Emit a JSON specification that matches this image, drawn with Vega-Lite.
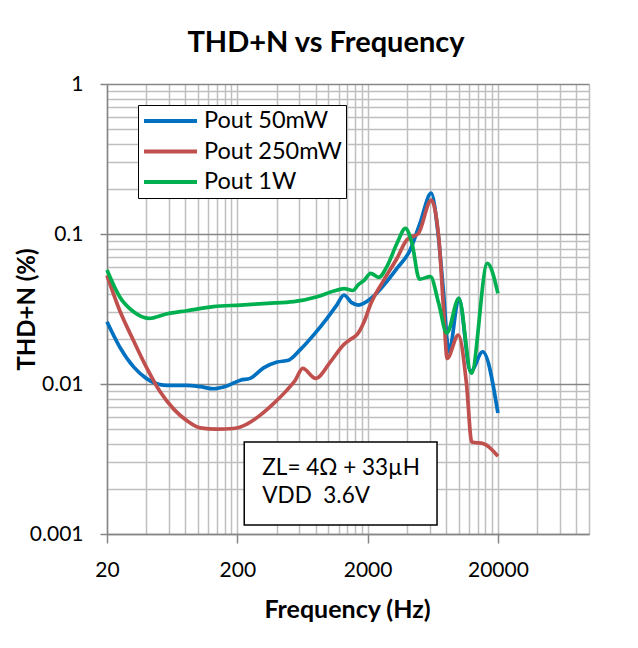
{
  "$schema": "https://vega.github.io/schema/vega-lite/v6.json",
  "width": 482,
  "height": 450,
  "autosize": {"type": "none"},
  "padding": {"left": 107, "top": 84, "right": 49, "bottom": 114},
  "background": "white",
  "title": {"text": "THD+N vs Frequency", "font": "Lato", "fontSize": 29, "fontWeight": "bold", "color": "black", "anchor": "middle", "frame": "group", "dx": -22, "offset": -8, "baseline": "alphabetic"},
  "datasets": {
    "curves": [
      {"s": "Pout 50mW", "f": 20, "v": 0.026},
      {"s": "Pout 50mW", "f": 25, "v": 0.0177},
      {"s": "Pout 50mW", "f": 32, "v": 0.013},
      {"s": "Pout 50mW", "f": 40, "v": 0.0109},
      {"s": "Pout 50mW", "f": 57, "v": 0.0098},
      {"s": "Pout 50mW", "f": 82, "v": 0.0098},
      {"s": "Pout 50mW", "f": 104, "v": 0.0096},
      {"s": "Pout 50mW", "f": 131, "v": 0.0093},
      {"s": "Pout 50mW", "f": 166, "v": 0.0097},
      {"s": "Pout 50mW", "f": 211, "v": 0.0106},
      {"s": "Pout 50mW", "f": 251, "v": 0.0109},
      {"s": "Pout 50mW", "f": 318, "v": 0.0128},
      {"s": "Pout 50mW", "f": 404, "v": 0.014},
      {"s": "Pout 50mW", "f": 494, "v": 0.0144},
      {"s": "Pout 50mW", "f": 611, "v": 0.017},
      {"s": "Pout 50mW", "f": 780, "v": 0.0215},
      {"s": "Pout 50mW", "f": 977, "v": 0.0274},
      {"s": "Pout 50mW", "f": 1160, "v": 0.0336},
      {"s": "Pout 50mW", "f": 1318, "v": 0.0392},
      {"s": "Pout 50mW", "f": 1500, "v": 0.035},
      {"s": "Pout 50mW", "f": 1700, "v": 0.0336},
      {"s": "Pout 50mW", "f": 2107, "v": 0.037},
      {"s": "Pout 50mW", "f": 2664, "v": 0.0457},
      {"s": "Pout 50mW", "f": 3362, "v": 0.0591},
      {"s": "Pout 50mW", "f": 4240, "v": 0.0782},
      {"s": "Pout 50mW", "f": 5050, "v": 0.118},
      {"s": "Pout 50mW", "f": 6150, "v": 0.187},
      {"s": "Pout 50mW", "f": 6900, "v": 0.106},
      {"s": "Pout 50mW", "f": 7580, "v": 0.0445},
      {"s": "Pout 50mW", "f": 8430, "v": 0.0164},
      {"s": "Pout 50mW", "f": 10020, "v": 0.0373},
      {"s": "Pout 50mW", "f": 12340, "v": 0.0121},
      {"s": "Pout 50mW", "f": 15300, "v": 0.0164},
      {"s": "Pout 50mW", "f": 20000, "v": 0.0064},
      {"s": "Pout 250mW", "f": 20, "v": 0.053},
      {"s": "Pout 250mW", "f": 25, "v": 0.031},
      {"s": "Pout 250mW", "f": 32, "v": 0.0194},
      {"s": "Pout 250mW", "f": 40, "v": 0.013},
      {"s": "Pout 250mW", "f": 51, "v": 0.0089},
      {"s": "Pout 250mW", "f": 65, "v": 0.0068},
      {"s": "Pout 250mW", "f": 82, "v": 0.0057},
      {"s": "Pout 250mW", "f": 104, "v": 0.0051},
      {"s": "Pout 250mW", "f": 139, "v": 0.005},
      {"s": "Pout 250mW", "f": 187, "v": 0.00505},
      {"s": "Pout 250mW", "f": 237, "v": 0.0054},
      {"s": "Pout 250mW", "f": 300, "v": 0.0062},
      {"s": "Pout 250mW", "f": 379, "v": 0.0074},
      {"s": "Pout 250mW", "f": 481, "v": 0.0091},
      {"s": "Pout 250mW", "f": 557, "v": 0.0106},
      {"s": "Pout 250mW", "f": 635, "v": 0.0127},
      {"s": "Pout 250mW", "f": 800, "v": 0.0109},
      {"s": "Pout 250mW", "f": 1040, "v": 0.0141},
      {"s": "Pout 250mW", "f": 1318, "v": 0.0184},
      {"s": "Pout 250mW", "f": 1500, "v": 0.02},
      {"s": "Pout 250mW", "f": 1670, "v": 0.0215},
      {"s": "Pout 250mW", "f": 1880, "v": 0.026},
      {"s": "Pout 250mW", "f": 2107, "v": 0.034},
      {"s": "Pout 250mW", "f": 2664, "v": 0.0493},
      {"s": "Pout 250mW", "f": 3362, "v": 0.0689},
      {"s": "Pout 250mW", "f": 3990, "v": 0.0912},
      {"s": "Pout 250mW", "f": 4910, "v": 0.101},
      {"s": "Pout 250mW", "f": 6150, "v": 0.168},
      {"s": "Pout 250mW", "f": 7020, "v": 0.096},
      {"s": "Pout 250mW", "f": 7660, "v": 0.0311},
      {"s": "Pout 250mW", "f": 8160, "v": 0.0148},
      {"s": "Pout 250mW", "f": 9920, "v": 0.0212},
      {"s": "Pout 250mW", "f": 11470, "v": 0.0101},
      {"s": "Pout 250mW", "f": 12600, "v": 0.0041},
      {"s": "Pout 250mW", "f": 15540, "v": 0.004},
      {"s": "Pout 250mW", "f": 20000, "v": 0.0033},
      {"s": "Pout 1W", "f": 20, "v": 0.0575},
      {"s": "Pout 1W", "f": 25, "v": 0.0382},
      {"s": "Pout 1W", "f": 32, "v": 0.0303},
      {"s": "Pout 1W", "f": 42, "v": 0.0274},
      {"s": "Pout 1W", "f": 57, "v": 0.0293},
      {"s": "Pout 1W", "f": 82, "v": 0.0308},
      {"s": "Pout 1W", "f": 131, "v": 0.0328},
      {"s": "Pout 1W", "f": 211, "v": 0.0336},
      {"s": "Pout 1W", "f": 339, "v": 0.0345},
      {"s": "Pout 1W", "f": 541, "v": 0.0354},
      {"s": "Pout 1W", "f": 820, "v": 0.0382},
      {"s": "Pout 1W", "f": 1100, "v": 0.0417},
      {"s": "Pout 1W", "f": 1318, "v": 0.0433},
      {"s": "Pout 1W", "f": 1540, "v": 0.042},
      {"s": "Pout 1W", "f": 1700, "v": 0.046},
      {"s": "Pout 1W", "f": 1880, "v": 0.049},
      {"s": "Pout 1W", "f": 2107, "v": 0.0547},
      {"s": "Pout 1W", "f": 2431, "v": 0.0514},
      {"s": "Pout 1W", "f": 2848, "v": 0.0621},
      {"s": "Pout 1W", "f": 3362, "v": 0.0867},
      {"s": "Pout 1W", "f": 3900, "v": 0.109},
      {"s": "Pout 1W", "f": 4380, "v": 0.0867},
      {"s": "Pout 1W", "f": 5000, "v": 0.05},
      {"s": "Pout 1W", "f": 6070, "v": 0.052},
      {"s": "Pout 1W", "f": 7020, "v": 0.0345},
      {"s": "Pout 1W", "f": 8100, "v": 0.0218},
      {"s": "Pout 1W", "f": 10020, "v": 0.0373},
      {"s": "Pout 1W", "f": 12500, "v": 0.0118},
      {"s": "Pout 1W", "f": 16600, "v": 0.0637},
      {"s": "Pout 1W", "f": 20000, "v": 0.0402}
    ],
    "box": [{"x1": 226, "x2": 6820, "y1": 0.0041, "y2": 0.00115}],
    "notes": [
      {"f": 311, "v": 0.00249, "label": "ZL= 4Ω + 33µH"},
      {"f": 311, "v": 0.00162, "label": "VDD \u00a03.6V"}
    ]
  },
  "layer": [
    {
      "data": {"name": "curves"},
      "mark": {"type": "line", "interpolate": "monotone", "strokeWidth": 3.7},
      "encoding": {
        "x": {
          "field": "f", "type": "quantitative",
          "scale": {"type": "log", "domain": [20, 100000], "nice": false},
          "axis": {
            "title": "Frequency (Hz)",
            "values": [20, 40, 60, 80, 100, 120, 140, 160, 180, 200, 400, 600, 800, 1000, 1200, 1400, 1600, 1800, 2000, 4000, 6000, 8000, 10000, 12000, 14000, 16000, 18000, 20000, 40000, 60000, 80000, 100000],
            "grid": true, "gridColor": "#bfbfbf", "gridWidth": 1.5,
            "domainColor": "#868686", "domainWidth": 1.5,
            "tickColor": "#868686", "tickWidth": 1.5, "tickSize": 9,
            "tickOpacity": {"condition": {"test": "datum.value===20||datum.value===200||datum.value===2000||datum.value===20000", "value": 1}, "value": 0},
            "labelExpr": "(datum.value===20||datum.value===200||datum.value===2000||datum.value===20000) ? datum.value+'' : ''",
            "labelFont": "Lato", "labelFontSize": 21, "labelColor": "black", "labelPadding": 16,
            "labelFlush": false, "labelOverlap": false,
            "titleFont": "Lato", "titleFontSize": 25, "titleFontWeight": "bold", "titleColor": "black",
            "titleX": 240, "titleY": 75, "titleAlign": "center", "titleBaseline": "middle"
          }
        },
        "y": {
          "field": "v", "type": "quantitative",
          "scale": {"type": "log", "domain": [0.001, 1], "nice": false},
          "axis": {
            "title": "THD+N (%)",
            "values": [0.001, 0.002, 0.003, 0.004, 0.005, 0.006, 0.007, 0.008, 0.009, 0.01, 0.02, 0.03, 0.04, 0.05, 0.06, 0.07, 0.08, 0.09, 0.1, 0.2, 0.3, 0.4, 0.5, 0.6, 0.7, 0.8, 0.9, 1],
            "grid": true,
            "gridColor": {"condition": {"test": "datum.value===1||datum.value===0.1||datum.value===0.01||datum.value===0.001", "value": "#868686"}, "value": "#bfbfbf"},
            "gridWidth": 1.5,
            "domainColor": "#868686", "domainWidth": 1.5,
            "tickColor": "#868686", "tickWidth": 1.5, "tickSize": 7,
            "tickOpacity": {"condition": {"test": "datum.value===1||datum.value===0.1||datum.value===0.01||datum.value===0.001", "value": 1}, "value": 0},
            "labelExpr": "(datum.value===1||datum.value===0.1||datum.value===0.01||datum.value===0.001) ? datum.value+'' : ''",
            "labelFont": "Lato", "labelFontSize": 21, "labelColor": "black", "labelPadding": 17,
            "labelFlush": false, "labelOverlap": false,
            "titleFont": "Lato", "titleFontSize": 24, "titleFontWeight": "bold", "titleColor": "black",
            "titleX": -80, "titleY": 225, "titleAngle": -90, "titleAlign": "center", "titleBaseline": "middle"
          }
        },
        "color": {
          "field": "s", "type": "nominal",
          "scale": {"domain": ["Pout 50mW", "Pout 250mW", "Pout 1W"], "range": ["#0070c0", "#c0504d", "#00b050"]},
          "legend": {
            "title": null, "orient": "none", "legendX": 31, "legendY": 21,
            "fillColor": "white", "strokeColor": "black", "padding": 4,
            "symbolType": "M-1,0H4.3", "symbolSize": 400, "symbolStrokeWidth": 4,
            "labelFont": "Lato", "labelFontSize": 23.5, "labelColor": "black", "labelOffset": 38, "labelLimit": 300,
            "rowPadding": 6.5
          }
        }
      }
    },
    {
      "data": {"name": "box"},
      "mark": {"type": "rect", "fill": "white", "stroke": "black", "strokeWidth": 1.5},
      "encoding": {
        "x": {"field": "x1", "type": "quantitative"},
        "x2": {"field": "x2"},
        "y": {"field": "y1", "type": "quantitative"},
        "y2": {"field": "y2"}
      }
    },
    {
      "data": {"name": "notes"},
      "mark": {"type": "text", "align": "left", "baseline": "alphabetic", "font": "Lato", "fontSize": 22.5, "color": "black"},
      "encoding": {
        "x": {"field": "f", "type": "quantitative"},
        "y": {"field": "v", "type": "quantitative"},
        "text": {"field": "label"}
      }
    }
  ],
  "config": {"view": {"stroke": null}, "font": "Lato"}
}
